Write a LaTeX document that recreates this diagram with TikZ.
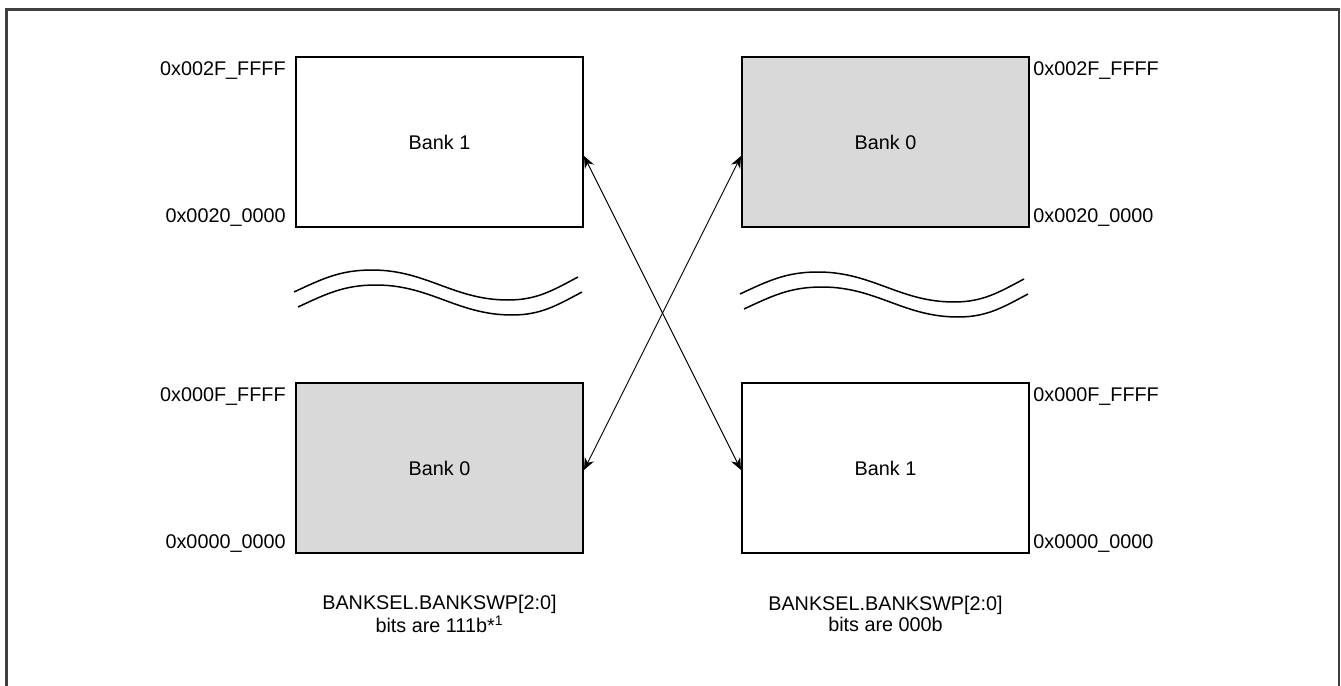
\documentclass[tikz,border=0pt]{standalone}
\usepackage{fontspec}
\setmainfont{Liberation Sans}
\usepackage{tikz}
\usetikzlibrary{arrows.meta,positioning,calc}
\definecolor{bkframe}{HTML}{404040}
\definecolor{bkgray} {HTML}{D9D9D9}
\tikzset{
  bkbank/.style={draw=black, line width=1pt, fill=white, minimum width=143.5pt,
                 minimum height=85pt, inner sep=0pt, font=\fontsize{9.9}{12}\selectfont},
  bkswap/.style={bkbank, fill=bkgray},
  bkaddr/.style={font=\fontsize{9.9}{12}\selectfont, inner sep=0pt},
  bknote/.style={font=\fontsize{9.9}{9}\selectfont, align=center, inner sep=0pt},
  bkedge/.style={{Stealth[length=6pt,width=5pt]}-{Stealth[length=6pt,width=5pt]},
                 line width=0.45pt},
  bkwave/.style={line width=0.75pt},
  bkframeline/.style={draw=bkframe, line width=1.1pt},
}
\begin{document}
\begin{tikzpicture}[x=0.5pt,y=0.5pt]
  \useasboundingbox (0,0) rectangle (1341,-686);
  \draw[bkframeline] (6.5,-686) -- (6.5,-9.5) -- (1339,-9.5) -- (1339,-686);
  % left map: banks swapped
  \node[bkbank] (L1) at (439.5,-142) {Bank 1};
  \node[bkswap] (L0) at (439.5,-468) {Bank 0};
  \node[bkaddr, anchor=east] at (286,-71)  {0x002F\_FFFF};
  \node[bkaddr, anchor=east] at (286,-218) {0x0020\_0000};
  \node[bkaddr, anchor=east] at (286,-397) {0x000F\_FFFF};
  \node[bkaddr, anchor=east] at (286,-544) {0x0000\_0000};
  % right map: normal order
  \node[bkswap] (R0) at (885.5,-142) {Bank 0};
  \node[bkbank] (R1) at (885.5,-468) {Bank 1};
  \node[bkaddr, anchor=west] at (1033,-71)  {0x002F\_FFFF};
  \node[bkaddr, anchor=west] at (1033,-218) {0x0020\_0000};
  \node[bkaddr, anchor=west] at (1033,-397) {0x000F\_FFFF};
  \node[bkaddr, anchor=west] at (1033,-544) {0x0000\_0000};
  \coordinate (L1a) at ([yshift=-7pt]L1.east);
  \coordinate (R0a) at ([yshift=-7pt]R0.west);
  \coordinate (L0a) at ([yshift=-1pt]L0.east);
  \coordinate (R1a) at ([yshift=-1pt]R1.west);
  \draw[bkedge] (L1a) -- (R1a);
  \draw[bkedge] (R0a) -- (L0a);
  % gaps in the address space
  \foreach \dx/\dy in {0/0, 4/-15, 446/-2, 450/-17} {
    \draw[bkwave, shift={(\dx,\dy)}] (294,-292) to[out=25,in=180] (372,-270)
      to[out=0,in=180] (508,-300) to[out=0,in=208] (578,-277);
  }
  \node[bknote] (nL) at (439.5,-614) {BANKSEL.BANKSWP[2:0]\\bits are 111b*\textsuperscript{1}};
  \node[bknote] (nR) at (885.5,-614) {BANKSEL.BANKSWP[2:0]\\bits are 000b};
\end{tikzpicture}
\end{document}
